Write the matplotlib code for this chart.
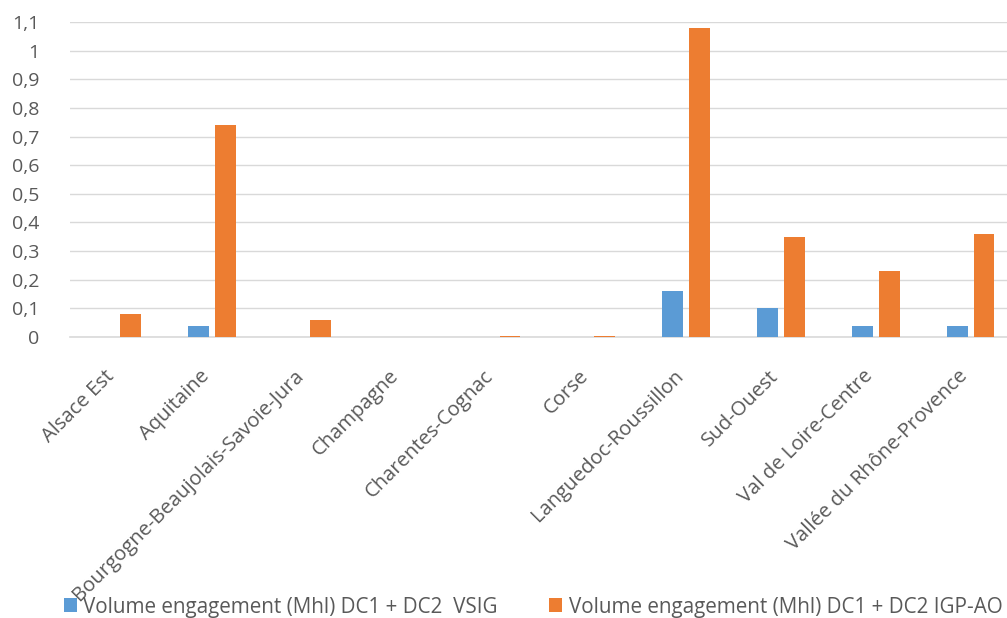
import matplotlib
matplotlib.use("Agg")
import matplotlib.pyplot as plt
from matplotlib.transforms import ScaledTranslation
import numpy as np

categories = ["Alsace Est", "Aquitaine", "Bourgogne-Beaujolais-Savoie-Jura", "Champagne",
              "Charentes-Cognac", "Corse", "Languedoc-Roussillon", "Sud-Ouest",
              "Val de Loire-Centre", "Vallée du Rhône-Provence"]
vsig = [0, 0.04, 0, 0, 0, 0, 0.16, 0.10, 0.04, 0.04]
igp_ao = [0.08, 0.74, 0.06, 0, 0.004, 0.004, 1.08, 0.35, 0.23, 0.36]
series_names = ["Volume engagement (Mhl) DC1 + DC2  VSIG",
                "Volume engagement (Mhl) DC1 + DC2 IGP-AO"]
yticks = [0, 0.1, 0.2, 0.3, 0.4, 0.5, 0.6, 0.7, 0.8, 0.9, 1.0, 1.1]
ytick_labels = ["0", "0,1", "0,2", "0,3", "0,4", "0,5", "0,6", "0,7", "0,8", "0,9", "1", "1,1"]

plt.rcParams['font.family'] = ['Open Sans', 'DejaVu Sans']

W, H = 1007, 618
fig = plt.figure(figsize=(W / 100, H / 100), dpi=100)
ax = fig.add_axes([70 / W, (H - 337) / H, (1018 - 70) / W, 315 / H])

x = np.arange(len(categories))
bw = 0.22
off = 0.142
b1 = ax.bar(x - off, vsig, bw, color="#5B9BD5", zorder=3)
b2 = ax.bar(x + off, igp_ao, bw, color="#ED7D31", zorder=3)

ax.set_xlim(-0.5, len(categories) - 0.5)
ax.set_ylim(0, 1.1)
ax.set_yticks(yticks)
ax.set_yticklabels(ytick_labels)
ax.yaxis.grid(True, color="#D9D9D9", linewidth=1.0, zorder=0)
ax.set_axisbelow(True)
for s in ["top", "right", "left"]:
    ax.spines[s].set_visible(False)
ax.spines["bottom"].set_color("#D9D9D9")
ax.spines["bottom"].set_linewidth(1.2)
ax.tick_params(axis="y", length=0, pad=22, labelsize=14, labelcolor="#595959")
ax.tick_params(axis="x", length=0, pad=24, labelsize=14.6, labelcolor="#595959")
ax.set_xticks(x)
ax.set_xticklabels(categories, rotation=45, ha="right", va="center", rotation_mode="anchor")
shift = ScaledTranslation(-6 / 100, -3 / 100, fig.dpi_scale_trans)
for lbl in ax.get_xticklabels():
    lbl.set_transform(lbl.get_transform() + shift)

fig.legend([b1, b2], series_names, loc="center", bbox_to_anchor=(533 / W, 1 - 607 / H),
           ncol=2, frameon=False, fontsize=14.85, labelcolor="#595959",
           handlelength=0.64, handleheight=0.64, handletextpad=0.3, columnspacing=2.5,
           borderpad=0, borderaxespad=0)

fig.savefig("out.png", dpi=100)
